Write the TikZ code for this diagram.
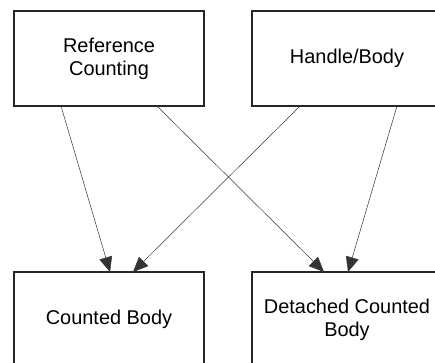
\documentclass[tikz,border=0pt]{standalone}
\usepackage{fontspec}
\setmainfont{Liberation Sans}
\usetikzlibrary{arrows.meta}
\begin{document}
\begin{tikzpicture}[x=1bp,y=-1bp,
  box/.style={draw=black!85, line width=1.1bp, minimum width=190bp, minimum height=95bp,
    inner sep=0pt, outer sep=0pt, align=center, font=\fontsize{20}{23}\selectfont, anchor=north west},
  link/.style={draw=black!80, line width=0.5bp, -{Triangle[length=15bp,width=13bp]}}]
\useasboundingbox (0,0) rectangle (435,362);
\clip (0,0) rectangle (435,362);
\node[box] (rc) at (14,11) {Reference\\Counting};
\node[box] (hb) at (252,11) {Handle/Body};
\node[box] (cb) at (14,272) {Counted Body};
\node[box] (dcb) at (252,272) {Detached Counted\\Body};
\draw[link] ([xshift=47bp]rc.south west) -- ([xshift=96bp]cb.north west);
\draw[link] ([xshift=143bp]rc.south west) -- ([xshift=72bp]dcb.north west);
\draw[link] ([xshift=48bp]hb.south west) -- ([xshift=119bp]cb.north west);
\draw[link] ([xshift=145bp]hb.south west) -- ([xshift=96bp]dcb.north west);
\end{tikzpicture}
\end{document}
